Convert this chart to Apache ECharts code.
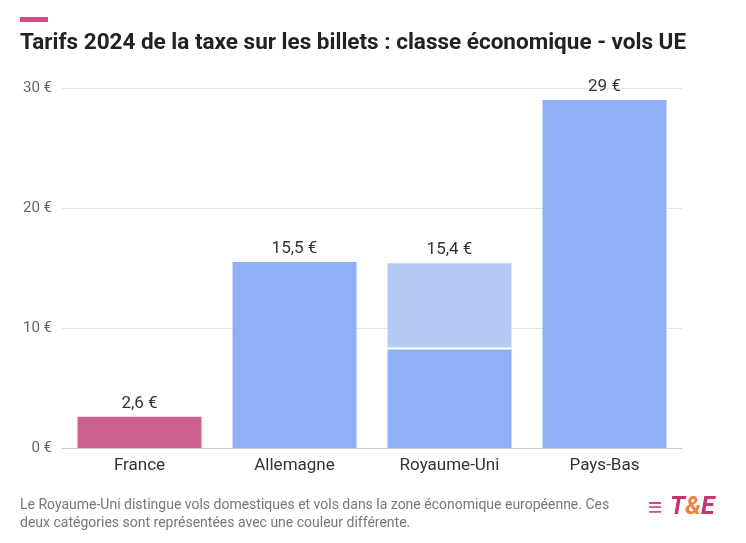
<!DOCTYPE html>
<html><head><meta charset="utf-8">
<script src="https://cdn.jsdelivr.net/npm/echarts@6/dist/echarts.min.js"></script>
<style>body{margin:0;background:#fff}#c{width:746px;height:543px}</style>
</head><body><div id="c"></div>
<script>
const categories = ['France', 'Allemagne', 'Royaume-Uni', 'Pays-Bas'];
const baseValues = [2.6, 15.5, 8.3, 29];
const extraValues = [0, 0, 7.1, 0];
const totalLabels = ['2,6 €', '15,5 €', '15,4 €', '29 €'];
const colors = ['#cc6190', '#8fb0f5', '#8fb0f5', '#8fb0f5'];

const chart = echarts.init(document.getElementById('c'));
chart.setOption({
  textStyle: {fontFamily: 'Roboto'},
  graphic: [
    {type: 'rect', left: 20, top: 17, shape: {width: 28, height: 5}, style: {fill: '#cc4b85'}},
    {type: 'text', left: 20, top: 32, style: {text: 'Tarifs 2024 de la taxe sur les billets : classe économique - vols UE', font: 'bold 22.5px Roboto', fill: '#222'}},
    {type: 'text', left: 20, top: 496, style: {text: 'Le Royaume-Uni distingue vols domestiques et vols dans la zone économique européenne. Ces\ndeux catégories sont représentées avec une couleur différente.', font: '14px Roboto', fill: '#777', lineHeight: 18}},
    {type: 'text', left: 648, top: 496, style: {text: '≡', font: 'bold 26px Roboto', fill: '#d9488a'}},
    {type: 'text', left: 670, top: 495, style: {rich: {a: {font: 'italic bold 25px Roboto', fill: '#c8346f'}, b: {font: 'italic bold 25px Roboto', fill: '#f08040'}}, text: '{a|T}{b|&}{a|E}'}}
  ],
  grid: {left: 62, right: 64, top: 88, bottom: 95},
  xAxis: {
    type: 'category', data: categories,
    axisTick: {show: false},
    axisLine: {lineStyle: {color: '#ccc'}},
    axisLabel: {fontSize: 17, color: '#333', margin: 9}
  },
  yAxis: {
    type: 'value', min: 0, max: 30, interval: 10,
    axisLabel: {fontSize: 15, color: '#666', margin: 10, formatter: v => v + ' €'},
    splitLine: {lineStyle: {color: '#e6e6e6'}}
  },
  series: [
    {type: 'bar', stack: 's', barWidth: '80%', data: baseValues.map((v, i) => ({value: v, itemStyle: {color: colors[i]}})),
     label: {show: true, position: 'top', fontSize: 17, color: '#333', formatter: p => extraValues[p.dataIndex] ? '' : totalLabels[p.dataIndex]}},
    {type: 'bar', stack: 's', barWidth: '80%', data: extraValues,
     itemStyle: {color: '#b5cbf3', borderColor: '#fff', borderWidth: 0},
     label: {show: true, position: 'top', fontSize: 17, color: '#333', formatter: p => p.value ? totalLabels[p.dataIndex] : ''}},
    {type: 'line', data: baseValues.map((v, i) => extraValues[i] ? v : null), symbol: 'rect', symbolSize: [124, 2],
     itemStyle: {color: '#fff'}, lineStyle: {width: 0}, silent: true, z: 5}
  ]
});
</script></body></html>
